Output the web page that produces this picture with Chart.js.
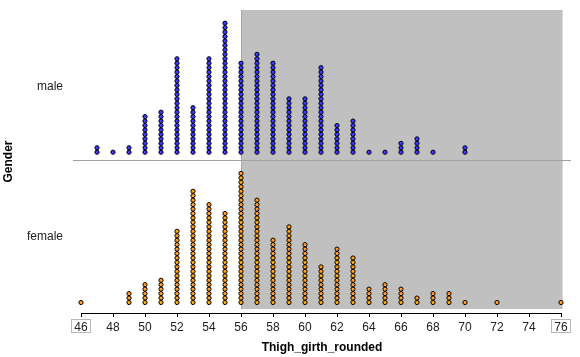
<!DOCTYPE html>
<html>
<head>
<meta charset="utf-8">
<script src="https://cdn.jsdelivr.net/npm/chart.js"></script>
<style>
  html, body { margin: 0; padding: 0; background: #fff; }
  canvas { display: block; }
</style>
</head>
<body>
<canvas id="c" width="580" height="357"></canvas>
<script>
// ---- data ----
const thighValues  = [46,47,48,49,50,51,52,53,54,55,56,57,58,59,60,61,62,63,64,65,66,67,68,69,70,71,72,73,74,75,76];
const maleCounts   = [ 0, 2, 1, 2, 9,10,22,11,22,30,21,23,21,13,13,20, 7, 8, 1, 1, 3, 4, 1, 0, 2, 0, 0, 0, 0, 0, 0];
const femaleCounts = [ 1, 0, 0, 3, 5, 6,17,26,23,21,30,24,15,18,14, 9,13,11, 4, 5, 4, 2, 3, 3, 1, 0, 1, 0, 0, 0, 1];
const groups = ['male', 'female'];
const xTicks = [46,48,50,52,54,56,58,60,62,64,66,68,70,72,74,76];
const shadeRange = [56, 76.1];

// ---- layout in "dot" units on the y scale ----
const Y_MIN = -2.36, Y_MAX = 65.73;
const MALE_BASE = 33.77, FEMALE_BASE = 0;
const DIVIDER = 32.02;
const GROUP_LABEL_POS = [48.43, 14.72];

function stackPoints(counts, base) {
  const pts = [];
  thighValues.forEach((v, i) => {
    for (let k = 0; k < counts[i]; k++) pts.push({x: v, y: base + k});
  });
  return pts;
}

const bgPlugin = {
  id: 'bg',
  beforeDatasetsDraw(chart) {
    const {ctx, chartArea, scales: {x, y}} = chart;
    ctx.save();
    const x0 = x.getPixelForValue(shadeRange[0]);
    const x1 = x.getPixelForValue(shadeRange[1]);
    ctx.fillStyle = '#c0c0c0';
    ctx.fillRect(x0, chartArea.top, x1 - x0, chartArea.bottom - 4 - chartArea.top);
    ctx.strokeStyle = '#a8a8a8';
    ctx.lineWidth = 1;
    ctx.beginPath();
    ctx.moveTo(Math.round(x0) + 0.5, chartArea.top);
    ctx.lineTo(Math.round(x0) + 0.5, chartArea.bottom - 4);
    ctx.stroke();
    // divider line between groups
    const yd = Math.round(y.getPixelForValue(DIVIDER)) + 0.5;
    ctx.strokeStyle = '#a0a0a0';
    ctx.beginPath();
    ctx.moveTo(chartArea.left, yd);
    ctx.lineTo(chartArea.right, yd);
    ctx.stroke();
    ctx.restore();
  },
  afterDraw(chart) {
    const {ctx, scales: {x}} = chart;
    ctx.save();
    ctx.strokeStyle = '#000';
    ctx.lineWidth = 1;
    const ya = x.top + 0.5;
    ctx.beginPath();
    ctx.moveTo(x.getPixelForValue(xTicks[0]), ya);
    ctx.lineTo(x.getPixelForValue(xTicks[xTicks.length - 1]) + 1, ya);
    ctx.stroke();
    // boxes around end tick labels
    ctx.strokeStyle = '#b8b8b8';
    [xTicks[0], xTicks[xTicks.length - 1]].forEach(v => {
      const px = Math.round(x.getPixelForValue(v));
      ctx.strokeRect(px - 9.5, x.top + 6.5, 19, 13);
    });
    ctx.restore();
  }
};

const dotStyle = {
  showLine: false,
  pointRadius: 2.1,
  pointBorderWidth: 1,
  pointBorderColor: '#000',
  pointHoverRadius: 2.1
};

new Chart(document.getElementById('c'), {
  type: 'scatter',
  data: {
    datasets: [
      Object.assign({label: groups[0], data: stackPoints(maleCounts, MALE_BASE), pointBackgroundColor: '#3c3cff'}, dotStyle),
      Object.assign({label: groups[1], data: stackPoints(femaleCounts, FEMALE_BASE), pointBackgroundColor: '#ffa31f'}, dotStyle)
    ]
  },
  options: {
    responsive: false,
    animation: false,
    devicePixelRatio: 1,
    layout: { padding: { top: 10, right: 9, left: 0, bottom: 0 } },
    plugins: { legend: { display: false }, tooltip: { enabled: false } },
    scales: {
      x: {
        type: 'linear',
        min: 45.5,
        max: 76.625,
        afterBuildTicks: s => { s.ticks = xTicks.map(v => ({value: v})); },
        afterFit: s => { s.height = 44; s.paddingLeft = 0; s.paddingRight = 0; },
        grid: { display: true, drawOnChartArea: false, drawTicks: true, tickLength: 4, color: '#000' },
        border: { display: false },
        ticks: { color: '#222', font: { family: 'Liberation Sans, Arial, sans-serif', size: 12 }, padding: 3, maxRotation: 0, autoSkip: false },
        title: { display: true, text: 'Thigh_girth_rounded', color: '#000',
                 font: { family: 'Liberation Sans, Arial, sans-serif', size: 12, weight: 'bold' },
                 padding: { top: 0, bottom: 2 } }
      },
      y: {
        type: 'linear',
        min: Y_MIN,
        max: Y_MAX,
        afterBuildTicks: s => { s.ticks = GROUP_LABEL_POS.map(v => ({value: v})); },
        afterFit: s => { s.width = 73; s.paddingTop = 0; s.paddingBottom = 0; },
        grid: { display: false, drawTicks: false },
        border: { display: false },
        ticks: { color: '#222', font: { family: 'Liberation Sans, Arial, sans-serif', size: 12 }, padding: 10,
                 callback: (v, i) => groups[i] },
        title: { display: true, text: 'Gender', color: '#000',
                 font: { family: 'Liberation Sans, Arial, sans-serif', size: 12, weight: 'bold' },
                 padding: { top: 1, bottom: 0 } }
      }
    }
  },
  plugins: [bgPlugin]
});
</script>
</body>
</html>
